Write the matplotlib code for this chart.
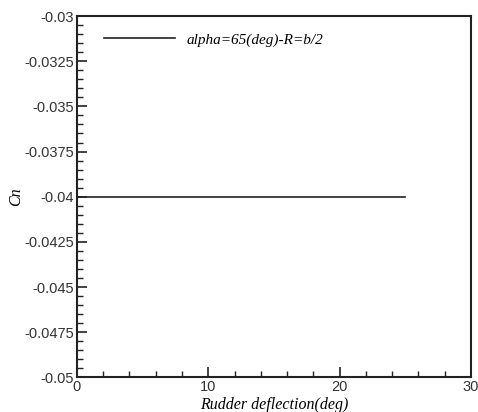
import matplotlib.pyplot as plt
from matplotlib.ticker import MultipleLocator

# Data
deflection = [0, 25]
cn = [-0.04, -0.04]
series_label = 'alpha=65(deg)-R=b/2'

x_ticks = [0, 10, 20, 30]
y_ticks = [-0.05, -0.0475, -0.045, -0.0425, -0.04, -0.0375, -0.035, -0.0325, -0.03]
y_tick_labels = ['-0.05', '-0.0475', '-0.045', '-0.0425', '-0.04', '-0.0375', '-0.035', '-0.0325', '-0.03']

serif = ['Liberation Serif', 'DejaVu Serif']
sans = ['Liberation Sans', 'DejaVu Sans']

fig = plt.figure(figsize=(4.78, 4.12), dpi=100)
ax = fig.add_axes([0.161, 0.084, 0.824, 0.877])

ax.plot(deflection, cn, color='#222222', linewidth=1.2, label=series_label)

ax.set_xlim(0, 30)
ax.set_ylim(-0.05, -0.03)
ax.set_xticks(x_ticks)
ax.set_yticks(y_ticks)
ax.set_yticklabels(y_tick_labels)
ax.xaxis.set_minor_locator(MultipleLocator(2))
ax.yaxis.set_minor_locator(MultipleLocator(0.0005))
ax.tick_params(which='both', direction='in', top=False, right=False, width=1.2, colors='#222222')
ax.tick_params(which='major', length=7, labelsize=10.5, pad=2)
ax.tick_params(which='minor', length=4, width=1.0)
for lbl in ax.get_xticklabels() + ax.get_yticklabels():
    lbl.set_family(sans)
    lbl.set_color('#333333')

for s in ax.spines.values():
    s.set_linewidth(1.5)
    s.set_color('#222222')

ax.set_xlabel('Rudder deflection(deg)', family=serif, style='italic', fontsize=11.5, labelpad=2)
ax.set_ylabel('Cn', family=serif, style='italic', fontsize=11.5, labelpad=0)

leg = ax.legend(loc='upper left', bbox_to_anchor=(0.035, 0.992), frameon=False,
                handlelength=4.6, handletextpad=0.8,
                prop={'family': serif, 'style': 'italic', 'size': 11})

fig.savefig('out.png', dpi=100)
